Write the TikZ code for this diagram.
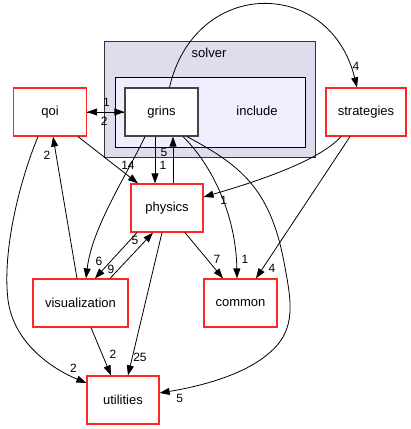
\documentclass[tikz,border=0pt]{standalone}
\usepackage{fontspec}
\setmainfont{Liberation Sans}
\usetikzlibrary{arrows.meta}

\begin{document}
\begin{tikzpicture}[x=1pt,y=-1pt,
        >={Triangle[length=10pt,width=7pt]},
        dirbox/.style={draw=red!85!white,line width=1.2pt,fill=white,minimum height=48pt,inner sep=0pt},
        dep/.style={->,line width=0.8pt},
        lbl/.style={inner sep=0pt,font=\fontsize{12}{14}\selectfont},
        font=\fontsize{13}{15}\selectfont]
        \useasboundingbox (0,0) rectangle (411,429);
        % Draw clusters
        \draw[fill={rgb,255:red,221;green,221;blue,238},draw={rgb,255:red,50;green,50;blue,55},line width=1pt] (104,41) rectangle (315,157);
        \node at (209,53) {solver};
        \draw[fill={rgb,255:red,238;green,238;blue,255},line width=1pt] (115,77) rectangle (305,147);
        \node at (257,111) {include};

        % Draw directories
        \node[dirbox,draw={rgb,255:red,68;green,68;blue,68},minimum width=73pt] (grins) at (161.5,112) {grins};
        \node[dirbox,minimum width=73pt] (qoi) at (50,112) {qoi};
        \node[dirbox,minimum width=80pt] (strategies) at (366,112) {strategies};
        \node[dirbox,minimum width=72pt] (physics) at (167,208) {physics};
        \node[dirbox,minimum width=95pt] (visualization) at (80.5,303) {visualization};
        \node[dirbox,minimum width=73pt] (common) at (240.5,303) {common};
        \node[dirbox,minimum width=72pt] (utilities) at (123,400) {utilities};

        % Draw dependencies
        \draw[dep] (qoi.east) -- (grins.west) node[lbl,at end,xshift=-18pt,yshift=10pt]{1};
        \draw[dep] (grins.west) -- (qoi.east) node[lbl,at end,xshift=17pt,yshift=-9pt]{2};
        \draw[dep] ([xshift=8pt]grins.north) .. controls (195,-23) and (330,-23) .. ([xshift=-9pt]strategies.north) node[lbl,at end,xshift=-1pt,yshift=21pt]{4};
        \draw[dep] ([xshift=28pt]qoi.south) -- ([xshift=-29pt]physics.north) node[lbl,at end,xshift=-10pt,yshift=18pt]{14};
        \draw[dep] ([xshift=-6.5pt]grins.south) -- ([xshift=-12pt]physics.north) node[lbl,at end,xshift=8pt,yshift=18pt]{1};
        \draw[dep] ([xshift=6pt]physics.north) -- ([xshift=11.5pt]grins.south) node[lbl,at end,xshift=-9pt,yshift=-16pt]{5};
        \draw[dep] ([xshift=-16.5pt]grins.south) .. controls (125,178) and (92,228) .. ([xshift=5.5pt]visualization.north) node[lbl,at end,xshift=13pt,yshift=17pt]{6};
        \draw[dep] ([xshift=21.5pt]grins.south) .. controls (212,165) and (236,215) .. ([xshift=-3.5pt]common.north) node[lbl,at end,xshift=8pt,yshift=19pt]{1};
        \draw[dep] ([xshift=25.5pt]grins.south) .. controls (240,165) and (270,188) .. (284,262) .. controls (291,300) and (298,330) .. (268,354) .. controls (240,378) and (190,388) .. ([yshift=7pt]utilities.east) node[lbl,at end,xshift=20pt,yshift=-5pt]{5};
        \draw[dep] ([xshift=-25pt]strategies.south) .. controls (320,160) and (262,180) .. ([yshift=11pt]physics.east) node[lbl,at end,xshift=20pt,yshift=-3pt]{1};
        \draw[dep] ([xshift=-16pt]strategies.south) -- ([xshift=15.5pt]common.north) node[lbl,at end,xshift=16pt,yshift=10pt]{4};
        \draw[dep] ([xshift=-12pt]qoi.south) .. controls (20,180) and (2,250) .. (8,300) .. controls (14,345) and (55,370) .. ([yshift=17pt]utilities.west) node[lbl,at end,xshift=-13pt,yshift=15pt]{2};
        \draw[dep] ([xshift=-3.5pt]visualization.north) -- ([xshift=3pt]qoi.south) node[lbl,at end,xshift=-6pt,yshift=-19pt]{2};
        \draw[dep] ([xshift=-30pt]physics.south) -- ([xshift=14.5pt]visualization.north) node[lbl,at end,xshift=16pt,yshift=9pt]{9};
        \draw[dep] ([xshift=29.5pt]visualization.north) -- ([xshift=-14pt]physics.south) node[lbl,at end,xshift=-18pt,yshift=-8pt]{5};
        \draw[dep] ([xshift=18pt]physics.south) -- ([xshift=-17.5pt]common.north) node[lbl,at end,xshift=-6pt,yshift=19pt]{7};
        \draw[dep] ([xshift=-5pt]physics.south) -- ([xshift=5pt]utilities.north) node[lbl,at end,xshift=12pt,yshift=18pt]{25};
        \draw[dep] ([xshift=10.5pt]visualization.south) -- ([xshift=-12pt]utilities.north) node[lbl,at end,xshift=2pt,yshift=21pt]{2};
\end{tikzpicture}
\end{document}
